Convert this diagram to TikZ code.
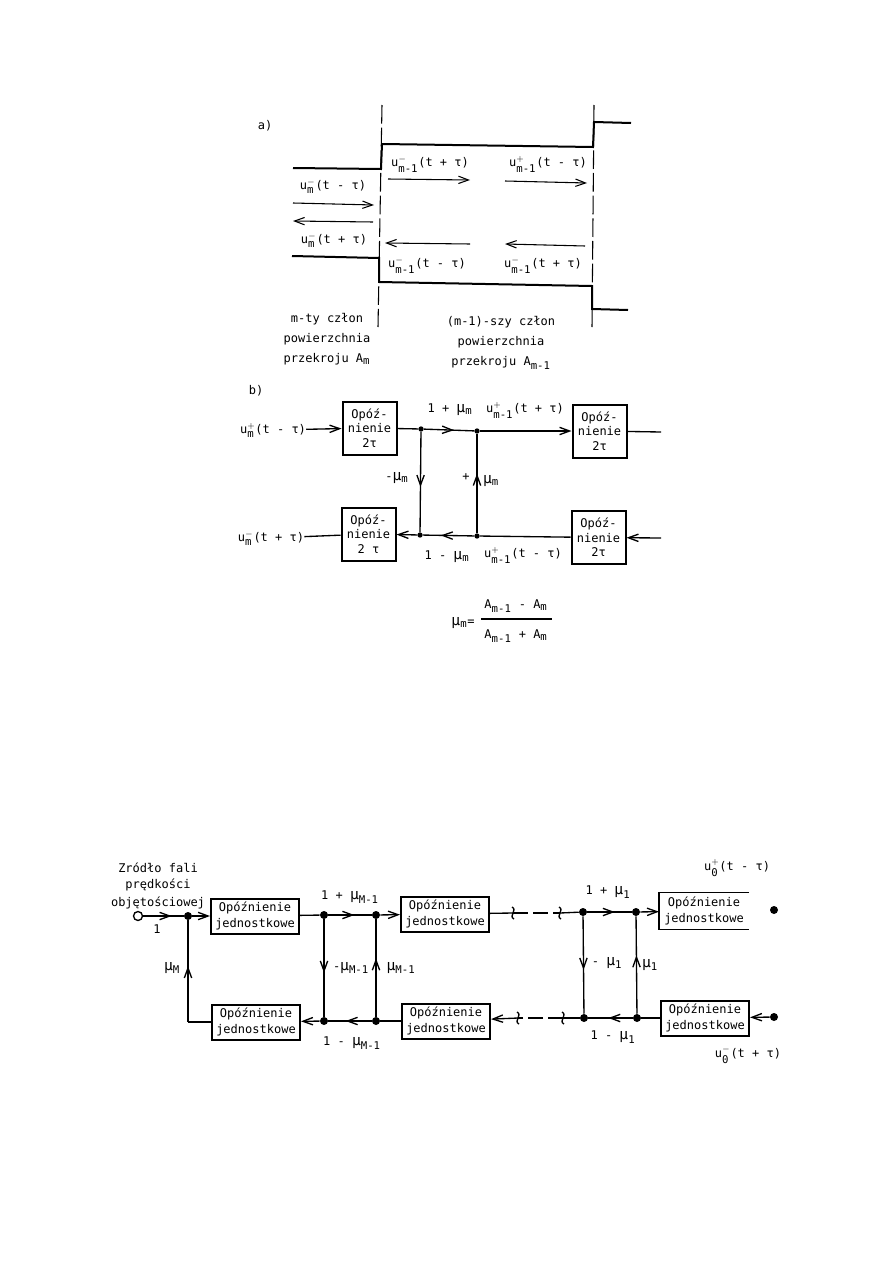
\documentclass[tikz,border=0pt]{standalone}
\usepackage{amsmath}
\usepackage{fontspec}
\setmainfont{DejaVu Sans Mono}
\usetikzlibrary{arrows.meta,decorations.markings}

\newcommand{\subt}[1]{\mbox{\normalfont\footnotesize #1}}
\newcommand{\wave}[3]{u$^{#1}_{\subt{#2}}$(#3)}
\newcommand{\mug}[1]{{\fontsize{11}{11}\selectfont μ}$_{\subt{#1}}$}
\newcommand{\brk}[1]{\draw[wire,shift={(#1)}] (-1,-6) .. controls (5,-3) and (-5,3) .. (1,6);}

\tikzset{
  delaybox/.style={draw=black,line width=1.5pt,align=center,inner sep=0pt},
  longbox/.style={delaybox,minimum width=88pt*0.75,minimum height=35pt*0.75},
  tallbox/.style={delaybox,minimum width=54pt*0.75,minimum height=53pt*0.75},
  junction/.style={circle,fill=black,inner sep=0pt,minimum size=6pt},
  midtip/.style={postaction={decorate},decoration={markings,mark=at position #1 with {\arrow{>}}}},
  lab/.style={inner sep=0pt,font=\fontsize{9}{9}\selectfont},
  pipe/.style={line width=1.5pt},
  wire/.style={line width=1pt},
  gapline/.style={dash pattern=on 11pt off 4pt}
}

\begin{document}
\begin{tikzpicture}[x=0.75pt,y=-0.75pt,>={Straight Barb[length=7.5pt,width=5.5pt]},font=\fontsize{9}{9}\selectfont,every edge/.style={draw,wire}]
  \useasboundingbox (0,0) rectangle (893,1263);

  % a)
  \node[lab] (parta) at (265,126) {a)};
  \draw[line width=0.8pt,dash pattern=on 14pt off 3pt] (382,105) -- (378,327);
  \draw[line width=0.8pt,dash pattern=on 14pt off 3pt] (594,105) -- (592,327);
  \draw[pipe] (293,168) -- (381,169) -- (382,144) -- (593,147) -- (594,122) -- (631,123);
  \draw[pipe] (292,256) -- (379,258) -- (379,282) -- (592,286) -- (592,309) -- (628,310);
  \foreach \xa/\ya/\xb/\yb in {388/179/470/180, 505/181/587/183, 293/203/374/205,
                               373/222/293/221, 470/244/385/243, 585/246/505/244}
    \draw[->,line width=0.8pt] (\xa,\ya) -- (\xb,\yb);
  \node[lab] (ua) at (430,164) {\wave{-}{m-1}{t + τ}};
  \node[lab] (ub) at (548,164) {\wave{+}{m-1}{t - τ}};
  \node[lab] (uc) at (333,186) {\wave{-}{m}{t - τ}};
  \node[lab] (ud) at (334,240) {\wave{-}{m}{t + τ}};
  \node[lab] (ue) at (427,265) {\wave{-}{m-1}{t - τ}};
  \node[lab] (uf) at (543,265) {\wave{-}{m-1}{t + τ}};
  \node[lab,align=center] (sect) at (327,339) {m-ty człon\\[6pt]powierzchnia\\[6pt]przekroju A$_{\subt{m}}$};
  \node[lab,align=center] (secu) at (501,343) {(m-1)-szy człon\\[6pt]powierzchnia\\[6pt]przekroju A$_{\subt{m-1}}$};

  % b)
  \node[lab] (partb) at (256,391) {b)};
  \node[tallbox] (b1) at (369.5,428) {Opóź-\\[2pt]nienie\\[2pt]2τ};
  \node[tallbox] (b2) at (599.5,431) {Opóź-\\[2pt]nienie\\[2pt]2τ};
  \node[tallbox] (b3) at (368.5,534) {Opóź-\\[2pt]nienie\\[2pt]2 τ};
  \node[tallbox] (b4) at (598.5,537.5) {Opóź-\\[2pt]nienie\\[2pt]2τ};
  \node[junction,minimum size=4pt] (bt1) at (421,429) {};
  \node[junction,minimum size=4pt] (bt2) at (477,431) {};
  \node[junction,minimum size=4pt] (bb1) at (420,535) {};
  \node[junction,minimum size=4pt] (bb2) at (477,536) {};
  \node[lab] (uin) at (273,430) {\wave{+}{m}{t - τ}};
  \node[lab] (uout) at (271,538) {\wave{-}{m}{t + τ}};
  \coordinate (bend) at (661,432);
  \coordinate (bstart) at (661,538);

  \path
  (uin) edge[->] (b1)
  (b1) edge (bt1)
  (bt1) edge[midtip=.6] (bt2)
  (bt2) edge[->] (b2)
  (b2) edge (bend)
  (bstart) edge[->] (b4)
  (b4) edge (bb2)
  (bb2) edge[midtip=.65] (bb1)
  (bb1) edge[->] (b3)
  (b3) edge (uout)
  (bt1) edge[midtip=.55] (bb1)
  (bb2) edge[midtip=.6] (bt2);

  \node[lab] (bl1) at (450,410) {1 + \mug{m}};
  \node[lab] (bl2) at (525,410) {\wave{+}{m-1}{t + τ}};
  \node[lab] (bl3) at (397,478) {-\mug{m}};
  \node[lab] (bl4) at (466,477) {+};
  \node[lab] (bl5) at (491,481) {\mug{m}};
  \node[lab] (bl6) at (447,557) {1 - \mug{m}};
  \node[lab] (bl7) at (523,555) {\wave{+}{m-1}{t - τ}};
  \node[lab] (mudef) at (463,623) {\mug{m}=};
  \node[lab] (munum) at (516,606) {A$_{\subt{m-1}}$ - A$_{\subt{m}}$};
  \node[lab] (muden) at (516,636) {A$_{\subt{m-1}}$ + A$_{\subt{m}}$};
  \draw[wire] (481,619) -- (552,619);

  % c)
  \node[lab,align=center] (src) at (158,886) {Zródło fali\\[3pt]prędkości\\[3pt]objętościowej};
  \node[draw,circle,wire,inner sep=0pt,minimum size=9pt*0.75] (c0) at (138,916) {};
  \node[longbox] (c1) at (255,916) {Opóźnienie\\[3pt]jednostkowe};
  \node[longbox] (c2) at (445,914) {Opóźnienie\\[3pt]jednostkowe};
  \node[longbox,draw=none] (c3) at (704,911) {Opóźnienie\\[3pt]jednostkowe};
  \draw[line width=1pt] (c3.north east) -- (c3.north west) -- (c3.south west) -- (c3.south east);
  \node[longbox] (c4) at (256,1022) {Opóźnienie\\[3pt]jednostkowe};
  \node[longbox] (c5) at (446,1021) {Opóźnienie\\[3pt]jednostkowe};
  \node[longbox] (c6) at (705,1018) {Opóźnienie\\[3pt]jednostkowe};

  \node[junction] (n0) at (188,916) {};
  \node[junction] (t1) at (324,915) {};
  \node[junction] (t2) at (376,915) {};
  \node[junction] (t3) at (583,912) {};
  \node[junction] (t4) at (636,912) {};
  \node[junction] (t5) at (774,910) {};
  \node[junction] (d1) at (324,1021) {};
  \node[junction] (d2) at (376,1021) {};
  \node[junction] (d3) at (584,1018) {};
  \node[junction] (d4) at (637,1018) {};
  \node[junction] (d5) at (774,1017) {};
  \coordinate (corner) at (188,1022);
  \coordinate (bt) at (513,913);
  \coordinate (bu) at (560,913);
  \coordinate (bv) at (563,1018);
  \coordinate (bw) at (518,1018);

  \path
  (c0) edge[midtip=.7] (n0)
  (n0) edge[->] (c1)
  (c1) edge (t1)
  (t1) edge[midtip=.6] (t2)
  (t2) edge[->] (c2)
  (c2) edge (bt)
  (bt) edge[gapline] (bu)
  (bu) edge (t3)
  (t3) edge[midtip=.62] (t4)
  (t4) edge[->] (c3)
  (d5) edge[->] (c6)
  (c6) edge (d4)
  (d4) edge[midtip=.55] (d3)
  (d3) edge (bv)
  (bv) edge[gapline] (bw)
  (bw) edge[->] (c5)
  (c5) edge (d2)
  (d2) edge[midtip=.6] (d1)
  (d1) edge[->] (c4)
  (c4) edge (corner)
  (corner) edge[midtip=.55] (n0)
  (t1) edge[midtip=.55] (d1)
  (d2) edge[midtip=.6] (t2)
  (t3) edge[midtip=.55] (d3)
  (d4) edge[midtip=.6] (t4);
  \brk{bt} \brk{bu} \brk{bv} \brk{bw}

  \node[lab] (cl0) at (157,929) {1};
  \node[lab] (cl1) at (172,968) {\mug{M}};
  \node[lab] (cl2) at (350,897) {1 + \mug{M-1}};
  \node[lab] (cl3) at (351,968) {-\mug{M-1}};
  \node[lab] (cl4) at (401,968) {\mug{M-1}};
  \node[lab] (cl5) at (352,1043) {1 - \mug{M-1}};
  \node[lab] (cl6) at (608,892) {1 + \mug{1}};
  \node[lab] (cl7) at (607,963) {- \mug{1}};
  \node[lab] (cl8) at (650,965) {\mug{1}};
  \node[lab] (cl9) at (613,1037) {1 - \mug{1}};
  \node[lab] (cla) at (737,868) {\wave{+}{0}{t - τ}};
  \node[lab] (clb) at (748,1055) {\wave{-}{0}{t + τ}};
\end{tikzpicture}
\end{document}
